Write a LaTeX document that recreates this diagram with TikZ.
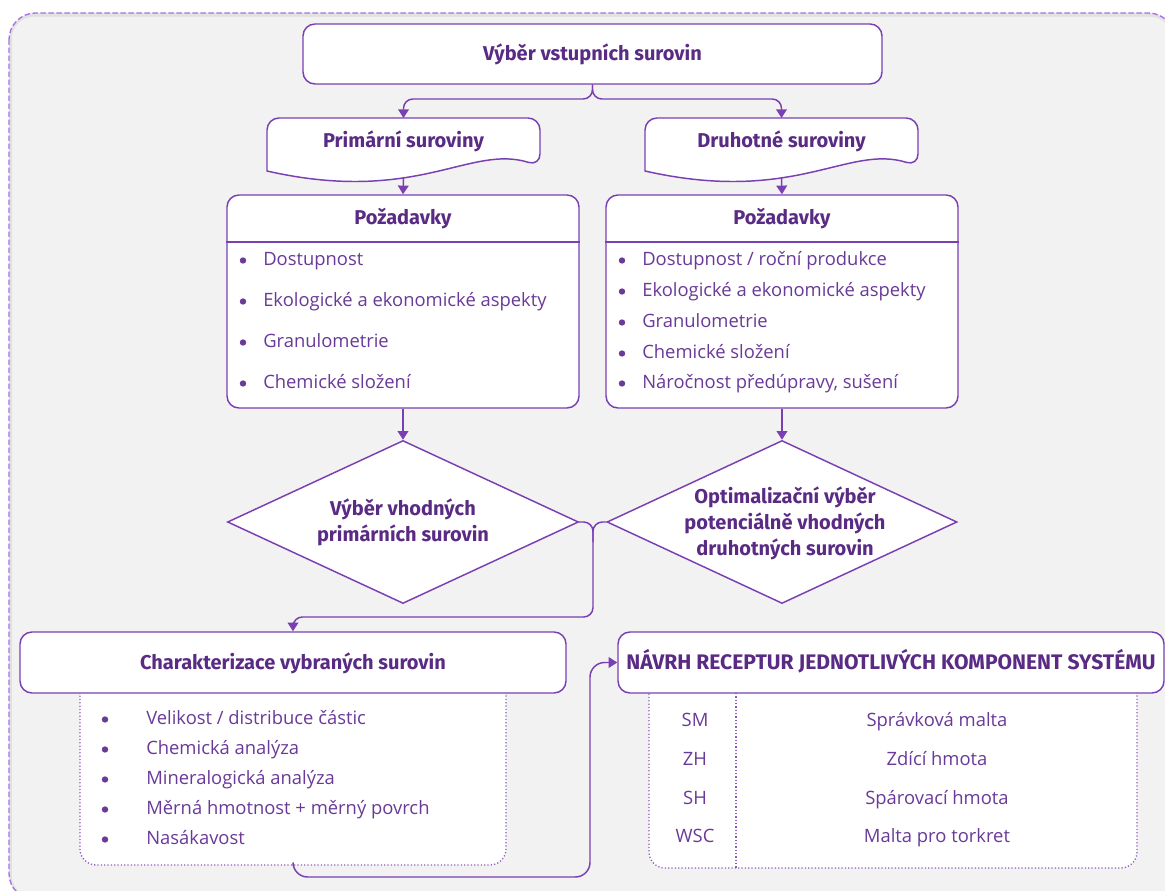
\documentclass[tikz,border=0pt]{standalone}
\usepackage{fontspec}
\setmainfont{Open Sans}
\newfontfamily\headfont{Fira Sans}
\usetikzlibrary{shapes.geometric,arrows.meta,fit,calc}

\definecolor{ink}{HTML}{5A2B84}
\definecolor{ink2}{HTML}{6A3A98}
\definecolor{edge}{HTML}{7A3FB2}
\definecolor{framec}{HTML}{A96FE0}
\definecolor{panel}{HTML}{F2F2F2}

\begin{document}
\begin{tikzpicture}[x=0.75pt,y=-0.75pt,
  line/.style={draw=edge, line width=1.1pt},
  conn/.style={line, -{Triangle[width=8pt,length=6.5pt]}, rounded corners=7pt},
  box/.style={draw=edge, line width=1.1pt, fill=white, rounded corners=9pt, inner sep=0pt},
  dotbox/.style={draw=edge!85, line width=1pt, dash pattern=on 0.9pt off 1.6pt, fill=white, rounded corners=12pt, inner sep=0pt},
  dotline/.style={draw=edge!85, line width=1pt, dash pattern=on 0.9pt off 1.6pt},
  head/.style={font=\headfont\bfseries\fontsize{15}{19}\selectfont, text=ink, anchor=base, inner sep=0pt},
  dtext/.style={font=\headfont\bfseries\fontsize{15}{19.5}\selectfont, text=ink, align=center, inner sep=0pt},
  item/.style={font=\fontsize{13.8}{16}\selectfont, text=ink2, anchor=base west, inner sep=0pt},
  cell/.style={font=\fontsize{13.8}{16}\selectfont, text=ink2, anchor=base, inner sep=0pt},
  bul/.style={circle, fill=ink2, inner sep=0pt, minimum size=4.8pt},
]
\useasboundingbox (0,0) rectangle (1165,891);
\fill[white] (0,0) rectangle (1165,891);

% outer panel with a faint inner shade along its edge
\fill[panel!93!black!100, rounded corners=20pt] (9,13) rectangle (1175,900);
\fill[panel, rounded corners=16pt] (12,17) rectangle (1172,897);
\draw[framec, line width=1pt, dash pattern=on 4pt off 2pt, rounded corners=20pt]
  (9,13) rectangle (1175,900);

% ---- top box
\node[box, fit={(303,24) (882,84)}] (top) {};
\node[head] (topt) at (592.5,61) {Výběr vstupních surovin};

% ---- wavy document boxes
\newcommand\wavybox[2]{%
  \draw[line, fill=white] (#1,150) [rounded corners=9pt] -- (#1,118) -- (#2,118) -- (#2,166)
    [sharp corners] .. controls ($(#2,166)+(-70,-22)$) and ($(#1,171)+(150,34)$) .. (#1,171) -- cycle;}
\wavybox{267}{540}
\wavybox{645}{918}
\coordinate (primtop) at (403.5,118);
\coordinate (primbot) at (403.5,177);
\coordinate (drutop) at (781.5,118);
\coordinate (drubot) at (781.5,177);
\node[head] (primt) at (403.5,148) {Primární suroviny};
\node[head] (drut) at (781.5,148) {Druhotné suroviny};

% ---- requirement boxes
\node[box, fit={(227,195) (579,408)}] (reqL) {};
\node[box, fit={(606,195) (958,408)}] (reqR) {};
\node[head] (reqLt) at (403,225) {Požadavky};
\node[head] (reqRt) at (782,225) {Požadavky};
\draw[line] (reqL.west |- 0,242) -- (reqL.east |- 0,242);
\draw[line] (reqR.west |- 0,242) -- (reqR.east |- 0,242);

\foreach \t/\y [count=\i] in {{Dostupnost}/259, {Ekologické a ekonomické aspekty}/300,
    {Granulometrie}/341, {Chemické složení}/382}{
  \node[bul] (lb\i) at (243,\y+1.5) {};
  \node[item] (li\i) at (263,\y+6.5) {\t};
}
\foreach \t/\y [count=\i] in {{Dostupnost / roční produkce}/259, {Ekologické a ekonomické aspekty}/290,
    {Granulometrie}/321, {Chemické složení}/352, {Náročnost předúpravy, sušení}/382}{
  \node[bul] (rb\i) at (622,\y+1.5) {};
  \node[item] (ri\i) at (642,\y+6.5) {\t};
}

% ---- decisions
\node[diamond, draw=edge, line width=1.1pt, fill=white, minimum width=263.25pt,
  minimum height=122.25pt, aspect=2.15, dtext, inner sep=0pt] (dL) at (403,522)
  {Výběr vhodných\\primárních surovin};
\node[diamond, draw=edge, line width=1.1pt, fill=white, minimum width=262.5pt,
  minimum height=122.25pt, aspect=2.15, inner sep=0pt] (dR) at (782,522) {};
\node[dtext] (drt) at (785,523) {Optimalizační výběr\\potenciálně vhodných\\druhotných surovin};

% ---- lower lists (drawn under their headers)
\node[dotbox, fit={(80,672) (506,865)}] (clist) {};
\node[dotbox, fit={(649,672) (1137,868)}] (tab) {};
\draw[dotline] (736,693) -- (736,868);

\node[box, fit={(20,632) (566,693)}] (char) {};
\node[head] (chart) at (293,669) {Charakterizace vybraných surovin};
\node[box, fit={(618,632) (1164,693)}] (navrh) {};
\node[head, font=\headfont\bfseries\fontsize{15.8}{19}\selectfont] (navrht) at (891,669)
  {NÁVRH RECEPTUR JEDNOTLIVÝCH KOMPONENT SYSTÉMU};

\foreach \t/\y [count=\i] in {{Velikost / distribuce částic}/718, {Chemická analýza}/748,
    {Mineralogická analýza}/778, {Měrná hmotnost + měrný povrch}/808, {Nasákavost}/838}{
  \node[bul] (cb\i) at (105,\y+1.5) {};
  \node[item] (ci\i) at (146,\y+6.5) {\t};
}
\foreach \a/\b/\y [count=\i] in {SM/{Správková malta}/720, ZH/{Zdící hmota}/759,
    SH/{Spárovací hmota}/798, WSC/{Malta pro torkret}/836}{
  \node[cell] (ta\i) at (695,\y+6.5) {\a};
  \node[cell] (tb\i) at (937,\y+6.5) {\b};
}

% ---- connectors
\coordinate (split) at (592.5,99);
\draw[conn] (top.south) -- (split) -| (primtop);
\draw[conn] (top.south) -- (split) -| (drutop);
\draw[conn] (primbot) -- (reqL.north);
\draw[conn] (drubot) -- (reqR.north);
\draw[conn] (reqL.south) -- (dL.north);
\draw[conn] (reqR.south) -- (dR.north);

\coordinate (junc) at (593,522);
\coordinate (jdown) at (593,617);
\draw[conn] (dL.east) -- (junc) -- (jdown) -| (char.north);
\draw[line, rounded corners=7pt] (dR.west) -- (junc) -- ++(0,20);

\coordinate (bend) at (590,877);
\draw[conn, rounded corners=11pt] (clist.south) |- (bend) |- (navrh.west);
\end{tikzpicture}
\end{document}
